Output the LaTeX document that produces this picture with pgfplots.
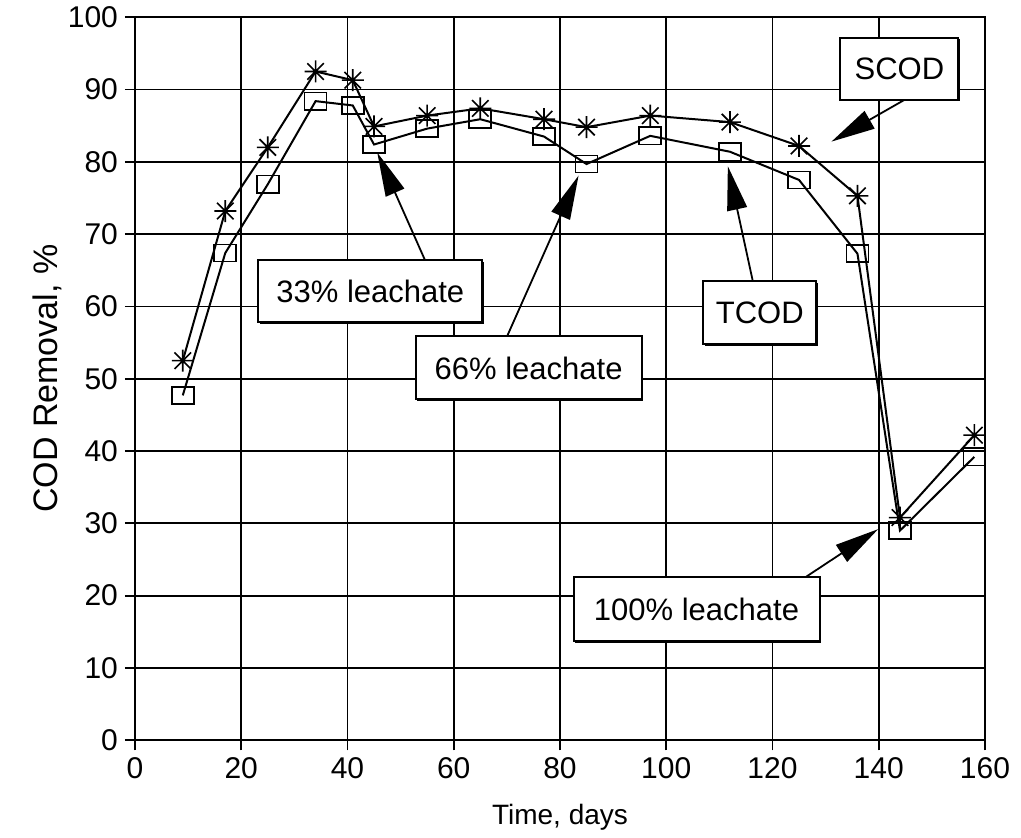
\documentclass[border=0pt]{standalone}
\usepackage{fontspec}
\setmainfont{Liberation Sans}
\usepackage{pgfplots}
\usepackage{pgfplotstable}
\pgfplotsset{compat=1.18}
\usetikzlibrary{arrows.meta,shadows}

% star marker: X plus horizontal and vertical bars
\pgfdeclareplotmark{codstar}{%
  \pgfpathmoveto{\pgfqpoint{0pt}{\pgfplotmarksize}}%
  \pgfpathlineto{\pgfqpoint{0pt}{-\pgfplotmarksize}}%
  \pgfpathmoveto{\pgfqpoint{-\pgfplotmarksize}{0pt}}%
  \pgfpathlineto{\pgfqpoint{\pgfplotmarksize}{0pt}}%
  \pgfpathmoveto{\pgfqpoint{-0.75\pgfplotmarksize}{-0.75\pgfplotmarksize}}%
  \pgfpathlineto{\pgfqpoint{0.75\pgfplotmarksize}{0.75\pgfplotmarksize}}%
  \pgfpathmoveto{\pgfqpoint{-0.75\pgfplotmarksize}{0.75\pgfplotmarksize}}%
  \pgfpathlineto{\pgfqpoint{0.75\pgfplotmarksize}{-0.75\pgfplotmarksize}}%
  \pgfusepathqstroke}
% open, slightly wide square
\pgfdeclareplotmark{codsq}{%
  \pgfpathrectangle{\pgfqpoint{-5.5pt}{-4.3pt}}{\pgfqpoint{11pt}{8.6pt}}%
  \pgfusepathqstroke}

\pgfplotstableread{
day scod tcod
9   52.5 47.7
17  73.2 67.4
25  82.0 76.9
34  92.5 88.4
41  91.3 87.8
45  84.9 82.4
55  86.4 84.6
65  87.4 85.9
77  85.9 83.5
85  84.8 79.7
97  86.4 83.6
112 85.5 81.4
125 82.2 77.5
136 75.3 67.3
144 30.8 29.0
158 42.2 39.2
}\codtable

\tikzset{
  callout/.style={draw,fill=white,line width=1pt,inner sep=0pt,
    font=\fontsize{15.5}{15.5}\selectfont,
    drop shadow={shadow xshift=0.9pt,shadow yshift=-0.9pt,fill=black,opacity=1}},
  pointer/.style={line width=0.9pt,-{Triangle[length=22pt,width=10pt]}}
}

\begin{document}
\begin{tikzpicture}
\begin{axis}[
  scale only axis,
  width=425pt, height=361.5pt,
  xmin=0, xmax=160, ymin=0, ymax=100,
  xtick={0,20,...,160}, ytick={0,10,...,100},
  grid=major,
  grid style={black,line width=0.9pt},
  axis line style={line width=1.2pt},
  tick align=outside, tick pos=left,
  major tick length=5pt,
  tick style={black,line width=0.9pt},
  ticklabel style={font=\fontsize{15}{15}\selectfont},
  /pgf/number format/assume math mode=true,
  xlabel={Time, days},
  ylabel={COD Removal, \%},
  every axis x label/.style={at={(axis description cs:0.5,-0.107)},anchor=center,
    font=\fontsize{14}{14}\selectfont},
  every axis y label/.style={at={(axis description cs:-0.1035,0.5)},rotate=90,anchor=center,
    font=\fontsize{17}{17}\selectfont},
  clip=false,
]
\addplot[black,line width=1pt,mark=codsq,mark size=5.5pt,
  mark options={line width=0.8pt}] table[x=day,y=tcod] {\codtable};
\addplot[black,line width=1pt,mark=codstar,mark size=5.5pt,
  mark options={line width=0.8pt}] table[x=day,y=scod] {\codtable};

\draw[pointer] (axis cs:54.6,66.4) -- (axis cs:45.6,81.3);
\draw[pointer] (axis cs:70.0,55.8) -- (axis cs:83.5,78.1);
\draw[pointer] (axis cs:116.3,63.5) -- (axis cs:111.6,79.4);
\draw[pointer] (axis cs:144.9,88.6) -- (axis cs:131.1,82.8);
\draw[pointer] (axis cs:126.1,22.5) -- (axis cs:139.9,29.2);

\node[callout,minimum width=112pt,minimum height=31pt] at (axis cs:44.3,62.1) {33\% leachate};
\node[callout,minimum width=113pt,minimum height=31.5pt] at (axis cs:74.1,51.5) {66\% leachate};
\node[callout,minimum width=56.5pt,minimum height=31.5pt] at (axis cs:117.6,59.1) {TCOD};
\node[callout,minimum width=59pt,minimum height=31pt] at (axis cs:143.9,92.9) {SCOD};
\node[callout,minimum width=123pt,minimum height=32pt] at (axis cs:105.7,18.1) {100\% leachate};

% page margins as in the reference
\path (axis description cs:-0.1588,-0.130) rectangle (axis description cs:1.0424,1.0138);
\end{axis}
\end{tikzpicture}
\end{document}
